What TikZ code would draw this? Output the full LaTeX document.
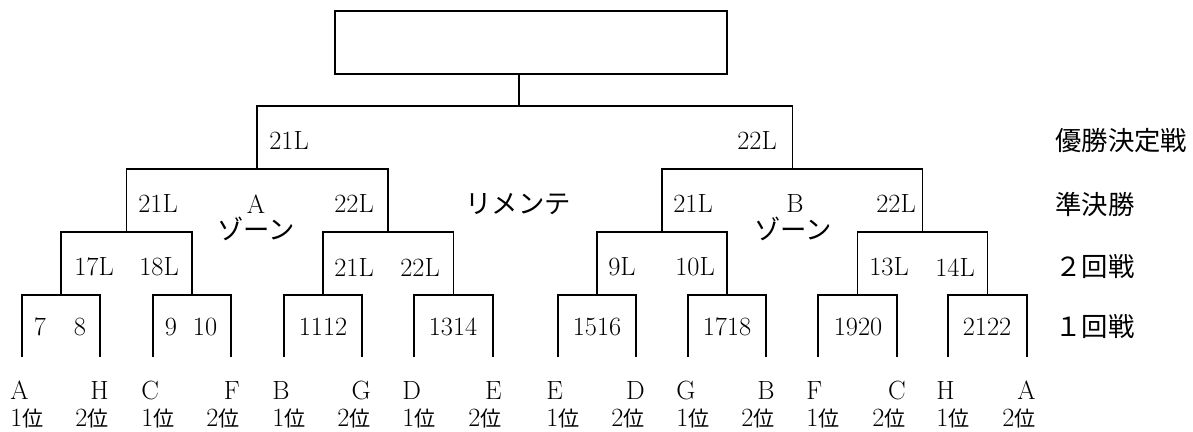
\documentclass[tikz,border=0pt]{standalone}
\usepackage{fontspec}
\newfontfamily\jpfont{Noto Sans CJK JP}
\usetikzlibrary{positioning}

\begin{document}
\begin{tikzpicture}[
    x=0.02cm, y=-0.02cm,
    line/.style={line width=1.1pt, draw=black},
    lbl/.style={font=\fontsize{15}{15.3}\selectfont, inner sep=0pt},
    champbox/.style={draw, line width=1.1pt, minimum width=7.84cm, minimum height=1.26cm, inner sep=0pt}
  ]
  \useasboundingbox (0,0) rectangle (1193,432);

  % bottom ends of the first-round lines
  \foreach \x [count=\i] in {22,100,153,231,284,362,414,493,558,636,688,766,818,897,948,1027}
    \coordinate (leaf\i) at (\x,357);
  \foreach \x [count=\i] in {61,192,323,453.5,597,727,857.5,987.5}
    \coordinate (rone\i) at (\x,295);
  \foreach \x [count=\i] in {126.5,388,662,922.5}
    \coordinate (rtwo\i) at (\x,232);
  \coordinate (semi1) at (257,169);
  \coordinate (semi2) at (792.5,169);
  \coordinate (final) at (519,106);

  % brackets
  \foreach \i in {1,...,8} {
    \pgfmathtruncatemacro\a{2*\i-1}
    \pgfmathtruncatemacro\b{2*\i}
    \draw[line] (leaf\a) |- (rone\i) -| (leaf\b);
  }
  \foreach \i in {1,...,4} {
    \pgfmathtruncatemacro\a{2*\i-1}
    \pgfmathtruncatemacro\b{2*\i}
    \draw[line] (rone\a) |- (rtwo\i) -| (rone\b);
  }
  \draw[line] (rtwo1) |- (semi1) -| (rtwo2);
  \draw[line] (rtwo3) |- (semi2) -| (rtwo4);
  \draw[line] (semi1) |- (final) -| (semi2);

  % winner box
  \node[champbox] (champ) at (531,42.5) {};
  \draw[line] (final) -- (final |- champ.south);

  % match labels
  \node[lbl] (fl1) at (289,141) {21L};
  \node[lbl] (fl2) at (757,141) {22L};
  \foreach \x/\t [count=\i] in {158/21L,256/A,354/22L,518/{\jpfont リメンテ},693/21L,795/B,896/22L}
    \node[lbl] (sl\i) at (\x,204) {\t};
  \node[lbl] (zoneA) at (256,229) {\jpfont ゾーン};
  \node[lbl] (zoneB) at (793,229) {\jpfont ゾーン};
  \foreach \x/\t [count=\i] in {94/17L,159/18L,354/21L,420/22L,622/9L,695/10L,889/13L,955/14L}
    \node[lbl] (tl\i) at (\x,267) {\t};
  \foreach \x/\t [count=\i] in {40/7,80/8,171/9,205/10,323/1112,453/1314,597/1516,727/1718,858/1920,987/2122}
    \node[lbl] (ol\i) at (\x,327) {\t};

  % round names
  \node[lbl, anchor=west] (rfin) at (1055,141) {\jpfont 優勝決定戦};
  \node[lbl, anchor=west] (rsemi) at (1055,204) {\jpfont 準決勝};
  \node[lbl, anchor=west] (rtwo) at (1055,267) {\jpfont ２回戦};
  \node[lbl, anchor=west] (rone) at (1055,327) {\jpfont １回戦};

  % group places
  \foreach \x/\t [count=\i] in {22/A,153/C,284/B,414/D,558/E,688/G,818/F,948/H}
    \node[lbl, anchor=north west, align=left] (first\i) at (\x-12,381) {\t\\1{\jpfont\fontsize{12}{12}\selectfont 位}};
  \foreach \x/\t [count=\i] in {100/H,231/F,362/G,493/E,636/D,766/B,897/C,1027/A}
    \node[lbl, anchor=north east, align=right] (second\i) at (\x+9,381) {\t\\2{\jpfont\fontsize{12}{12}\selectfont 位}};
\end{tikzpicture}
\end{document}
